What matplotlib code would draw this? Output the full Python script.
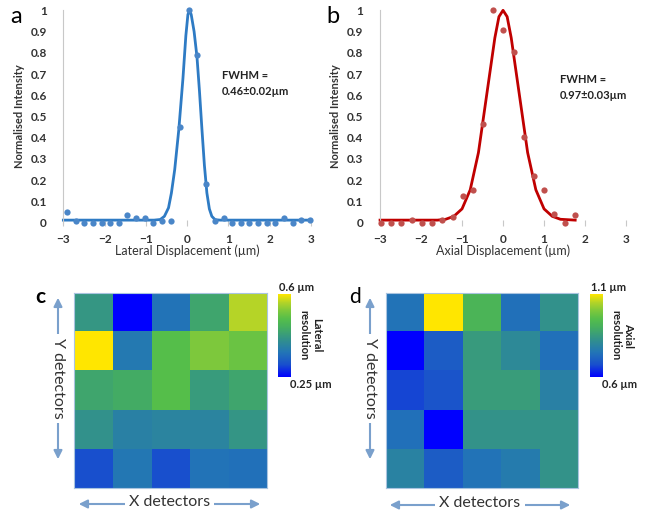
import numpy as np
import matplotlib
matplotlib.use("Agg")
import matplotlib.pyplot as plt
from matplotlib.colors import LinearSegmentedColormap

plt.rcParams['font.family'] = ['Lato', 'DejaVu Sans']

# ---- panel a: lateral profile ----
lat_x = [-2.92, -2.69, -2.49, -2.29, -2.07, -1.87, -1.66, -1.45, -1.24, -1.03,
         -0.82, -0.6, -0.39, -0.18, 0.04, 0.25, 0.46, 0.68, 0.89, 1.1, 1.3, 1.5,
         1.71, 1.93, 2.14, 2.35, 2.56, 2.77, 2.98]
lat_y = [0.05, 0.01, 0.0, 0.0, 0.0, 0.0, 0.0, 0.036, 0.024, 0.024,
         0.0, 0.01, 0.01, 0.45, 1.0, 0.79, 0.18, 0.01, 0.024, 0.0, 0.0, 0.0,
         0.0, 0.0, 0.0, 0.024, 0.0, 0.013, 0.013]
lat_fit_x = [-3.0, -0.8, -0.65, -0.55, -0.45, -0.38, -0.3, -0.2, -0.1, -0.03,
             0.02, 0.06, 0.1, 0.17, 0.24, 0.3, 0.36, 0.42, 0.48, 0.54, 0.6,
             0.68, 0.8, 3.0]
lat_fit_y = [0.012, 0.012, 0.015, 0.03, 0.07, 0.14, 0.25, 0.44, 0.68, 0.88,
             0.98, 1.0, 0.98, 0.9, 0.78, 0.62, 0.44, 0.27, 0.14, 0.065, 0.03,
             0.014, 0.012, 0.012]

# ---- panel b: axial profile ----
ax_x = [-2.98, -2.74, -2.48, -2.23, -1.98, -1.73, -1.48, -1.23, -0.98, -0.73,
        -0.49, -0.24, 0.0, 0.26, 0.5, 0.76, 1.01, 1.25, 1.5, 1.76]
ax_y = [0.0, 0.0, 0.0, 0.013, 0.0, 0.0, 0.013, 0.025, 0.127, 0.155,
        0.466, 1.0, 0.907, 0.804, 0.403, 0.218, 0.155, 0.039, 0.0, 0.036]
ax_fit_x = [-3.0, -1.6, -1.4, -1.2, -1.0, -0.8, -0.6, -0.4, -0.2, -0.1, 0.0,
            0.1, 0.2, 0.4, 0.6, 0.8, 1.0, 1.2, 1.4, 1.76]
ax_fit_y = [0.012, 0.012, 0.016, 0.03, 0.065, 0.155, 0.33, 0.6, 0.87, 0.97,
            1.0, 0.97, 0.87, 0.6, 0.33, 0.155, 0.065, 0.03, 0.016, 0.012]

# ---- panels c, d: resolution maps (um) ----
lat_map = [[0.418, 0.250, 0.352, 0.443, 0.565],
           [0.600, 0.362, 0.495, 0.530, 0.513],
           [0.443, 0.453, 0.495, 0.425, 0.443],
           [0.408, 0.376, 0.383, 0.383, 0.415],
           [0.303, 0.359, 0.303, 0.352, 0.348]]
ax_map = [[0.745, 1.100, 0.920, 0.740, 0.825],
          [0.600, 0.700, 0.850, 0.805, 0.740],
          [0.665, 0.685, 0.855, 0.855, 0.780],
          [0.740, 0.600, 0.830, 0.830, 0.830],
          [0.785, 0.700, 0.745, 0.765, 0.830]]

cmap = LinearSegmentedColormap.from_list("parulaish", [
    (0.0, (0/255, 0/255, 255/255)),
    (0.15, (25/255, 80/255, 205/255)),
    (0.3, (35/255, 118/255, 182/255)),
    (0.45, (50/255, 145/255, 140/255)),
    (0.6, (70/255, 175/255, 95/255)),
    (0.7, (85/255, 190/255, 75/255)),
    (0.8, (125/255, 200/255, 60/255)),
    (0.9, (180/255, 212/255, 40/255)),
    (1.0, (255/255, 230/255, 0/255))])

fig = plt.figure(figsize=(6.53, 5.21), dpi=100)


def profile(rect, x, y, fx, fy, line_c, pt_c, xlabel, note, note_xy):
    ax = fig.add_axes(rect)
    ax.plot(fx, fy, color=line_c, lw=2, zorder=2, clip_on=False)
    ax.plot(x, y, 'o', color=pt_c, ms=4.5, mec='none', zorder=3, clip_on=False)
    ax.set_xlim(-3, 3)
    ax.set_ylim(0, 1)
    ax.set_xticks(range(-3, 4))
    ax.set_yticks(np.arange(0, 1.01, 0.1))
    ax.set_yticklabels(['0', '0.1', '0.2', '0.3', '0.4', '0.5', '0.6', '0.7',
                        '0.8', '0.9', '1'])
    for s in ['top', 'right', 'bottom']:
        ax.spines[s].set_visible(False)
    ax.spines['left'].set_color('#c8c8c8')
    ax.tick_params(axis='y', length=0, pad=12, labelsize=8.5, labelcolor='#333333')
    ax.tick_params(axis='x', length=4, direction='inout', color='#c8c8c8',
                   pad=6, labelsize=8.5, labelcolor='#333333')
    for lab in ax.get_xticklabels() + ax.get_yticklabels():
        lab.set_fontweight('bold')
    ax.set_xlabel(xlabel, fontsize=9, color='#333333', labelpad=0)
    ax.set_ylabel('Normalised Intensity', fontsize=8, color='#333333',
                  labelpad=4, fontweight='bold')
    ax.text(note_xy[0], note_xy[1], note, fontsize=8, color='#222222',
            va='top', linespacing=1.6, fontweight='bold')
    return ax


profile([0.097, 0.5726, 0.379, 0.4076], lat_x, lat_y, lat_fit_x, lat_fit_y,
        '#2e7bc4', '#4a86c8', 'Lateral Displacement (\u00b5m)',
        'FWHM =\n0.46\u00b10.02\u00b5m', (0.85, 0.72))
profile([0.582, 0.5726, 0.3767, 0.4076], ax_x, ax_y, ax_fit_x, ax_fit_y,
        '#c00000', '#c0504d', 'Axial Displacement (\u00b5m)',
        'FWHM =\n0.97\u00b10.03\u00b5m', (1.38, 0.70))

fig.text(0.015, 0.968, 'a', fontsize=17, va='center')
fig.text(0.50, 0.968, 'b', fontsize=17, va='center')


def heat(rect, crect, data, vmin, vmax, top_lbl, bot_lbl, title, label, lxy,
         lweight, arrows):
    ax = fig.add_axes(rect)
    ax.imshow(data, cmap=cmap, vmin=vmin, vmax=vmax, aspect='auto',
              interpolation='nearest')
    ax.set_xticks([])
    ax.set_yticks([])
    for s in ax.spines.values():
        s.set_color('#a9c4e0')
        s.set_linewidth(0.8)
    cax = fig.add_axes(crect)
    grad = np.linspace(1, 0, 256).reshape(-1, 1)
    cax.imshow(grad, cmap=cmap, aspect='auto')
    cax.set_axis_off()
    cx = crect[0]
    fig.text(cx + 0.002, crect[1] + crect[3] + 0.002, top_lbl, fontsize=8,
             va='bottom', ha='left', color='#222222', fontweight='bold')
    fig.text(cx + 0.018, crect[1] - 0.004, bot_lbl, fontsize=8,
             va='top', ha='left', color='#222222', fontweight='bold')
    fig.text(cx + 0.05, crect[1] + crect[3] / 2, title, fontsize=8,
             rotation=-90, va='center', ha='center', color='#222222',
             linespacing=1.2, fontweight='bold')
    fig.text(lxy[0], lxy[1], label, fontsize=15, fontweight=lweight,
             va='center', ha='center')
    vx, vy0, vy1, hy, hx0, hx1 = arrows
    acol = '#7aa0cc'
    fig.add_artist(matplotlib.patches.FancyArrowPatch(
        (vx, vy0), (vx, vy1), transform=fig.transFigure,
        arrowstyle='<|-|>,head_length=0.5,head_width=0.25',
        mutation_scale=10, color=acol, lw=1.5))
    fig.text(vx, (vy0 + vy1) / 2, 'Y detectors', rotation=-90, fontsize=11.5,
             va='center', ha='center', color='#333333',
             bbox=dict(fc='white', ec='none', pad=3))
    fig.add_artist(matplotlib.patches.FancyArrowPatch(
        (hx0, hy), (hx1, hy), transform=fig.transFigure,
        arrowstyle='<|-|>,head_length=0.5,head_width=0.25',
        mutation_scale=10, color=acol, lw=1.5))
    fig.text((hx0 + hx1) / 2, hy + 0.004, 'X detectors', fontsize=11.5,
             va='center', ha='center', color='#333333',
             bbox=dict(fc='white', ec='none', pad=3))


H = 521.0
W = 653.0
heat([0.1133, 0.0633, 0.2956, 0.3743], [0.4257, 0.2764, 0.0184, 0.1593],
     lat_map, 0.25, 0.6, '0.6 \u00b5m', '0.25 \u00b5m', 'Lateral\nresolution',
     'c', (40 / W, 1 - 297 / H), 'bold',
     (58 / W, 1 - 462 / H, 1 - 295 / H, 1 - 504 / H, 76 / W, 263 / W))
heat([0.5911, 0.0633, 0.294, 0.3743], [0.9035, 0.2764, 0.0184, 0.1593],
     ax_map, 0.6, 1.1, '1.1 \u00b5m', '0.6 \u00b5m', 'Axial\nresolution',
     'd', (355 / W, 1 - 297 / H), 'normal',
     (370 / W, 1 - 462 / H, 1 - 295 / H, 1 - 505 / H, 387 / W, 573 / W))

fig.savefig('out.png', dpi=100)
